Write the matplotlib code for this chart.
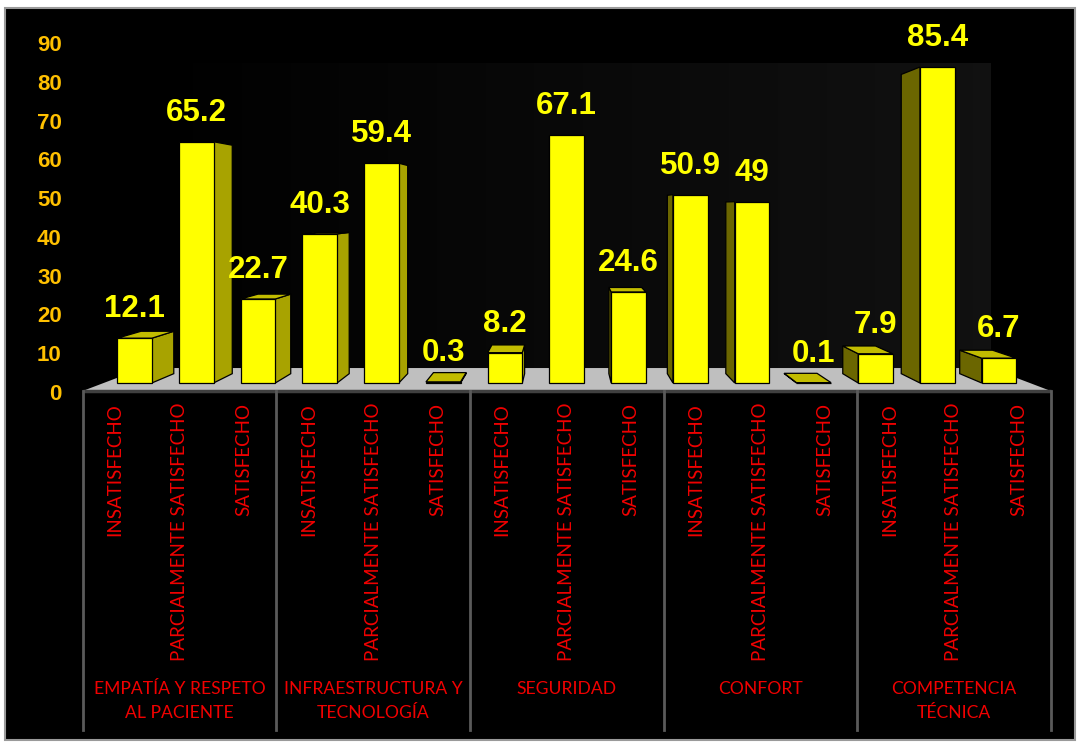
import numpy as np
import matplotlib.pyplot as plt
from matplotlib.patches import Polygon, Rectangle

# survey results: three satisfaction levels for each dimension
groups = ["EMPATÍA Y RESPETO\nAL PACIENTE", "INFRAESTRUCTURA Y\nTECNOLOGÍA",
          "SEGURIDAD", "CONFORT", "COMPETENCIA\nTÉCNICA"]
levels = ["INSATISFECHO", "PARCIALMENTE SATISFECHO", "SATISFECHO"]
values = [12.1, 65.2, 22.7,
          40.3, 59.4, 0.3,
          8.2, 67.1, 24.6,
          50.9, 49, 0.1,
          7.9, 85.4, 6.7]
y_ticks = [0, 10, 20, 30, 40, 50, 60, 70, 80, 90]

# 3d look: points pushed back toward a vanishing point
VX, VY = 7.0, 47.6
BAR_BACK = 0.947
FLOOR_FRONT, FLOOR_BACK = 1.045, 0.915
HALF_W = 0.28

FRONT = "#FFFF00"
RIGHT_SIDE = "#A8A300"
LEFT_SIDE = "#6B6600"
TOP = "#C2BC00"
RED = "#F00000"


def proj(x, y, s):
    return VX + s * (x - VX), VY + s * (y - VY)


W, H = 1078, 742
fig = plt.figure(figsize=(W / 100, H / 100), dpi=100)
fig.patch.set_facecolor("white")
fig.patches.append(Rectangle((5 / W, 2 / H), 1070 / W, 732 / H, transform=fig.transFigure,
                             facecolor="black", edgecolor="#9a9a9a", lw=1.5, zorder=-5))

ax = fig.add_axes([0, 0, 1, 1])
ax.set_xlim(-134.5 / 61.75, (W - 134.5) / 61.75)
ax.set_ylim((383 - H) / 3.70, 383 / 3.70)
ax.axis("off")
ax.patch.set_alpha(0)

n = len(values)

# back wall with a faint gradient
wx0, wy0 = proj(-0.5, 0, FLOOR_BACK)
wx1, wy1 = proj(n - 0.5, 90, FLOOR_BACK)
grad = np.linspace(0.0, 0.068, 256)[None, :] * np.ones((16, 1))
ax.imshow(np.dstack([grad, grad, grad]), extent=[wx0, wx1, wy0, wy1],
          aspect="auto", interpolation="bilinear", zorder=1)

# floor
floor = [proj(-0.5, 0, FLOOR_FRONT), proj(n - 0.5, 0, FLOOR_FRONT),
         proj(n - 0.5, 0, FLOOR_BACK), proj(-0.5, 0, FLOOR_BACK)]
ax.add_patch(Polygon(floor, closed=True, facecolor="#BFBFBF", edgecolor="none", zorder=2))
fl, fr = floor[0], floor[1]
ax.plot([fl[0], fr[0]], [fl[1], fr[1]], color="#404040", lw=2.5, zorder=3,
        solid_capstyle="butt")

# bars
for i, v in enumerate(values):
    x0, x1 = i - HALF_W, i + HALF_W
    kw = dict(closed=True, edgecolor="black", lw=0.9, zorder=4, joinstyle="miter")
    if x1 < VX:
        side = [(x1, 0), (x1, v), proj(x1, v, BAR_BACK), proj(x1, 0, BAR_BACK)]
        ax.add_patch(Polygon(side, facecolor=RIGHT_SIDE, **kw))
    if x0 > VX:
        side = [(x0, 0), (x0, v), proj(x0, v, BAR_BACK), proj(x0, 0, BAR_BACK)]
        ax.add_patch(Polygon(side, facecolor=LEFT_SIDE, **kw))
    if v < VY:
        top = [(x0, v), (x1, v), proj(x1, v, BAR_BACK), proj(x0, v, BAR_BACK)]
        ax.add_patch(Polygon(top, facecolor=TOP, **kw))
    ax.add_patch(Polygon([(x0, 0), (x1, 0), (x1, v), (x0, v)], facecolor=FRONT, **kw))
    ax.annotate(f"{v:g}", (i, v), xytext=(0, 15), textcoords="offset points",
                ha="center", va="baseline", color=FRONT, fontsize=22.5,
                fontweight="bold", family="Liberation Sans", zorder=6)

# category labels along the floor edge
for i in range(n):
    x = proj(i, 0, FLOOR_FRONT)[0]
    ax.text(x, -5.4, levels[i % 3], rotation=90, ha="center", va="top",
            color=RED, fontsize=13.5, family="Lato", zorder=6)

for g, name in enumerate(groups):
    x = proj(3 * g + 1, 0, FLOOR_FRONT)[0]
    ax.text(x, -80.6, name, ha="center", va="top", multialignment="center",
            color=RED, fontsize=12.6, family="Lato", linespacing=1.6, zorder=6)

for g in range(len(groups) + 1):
    x = proj(3 * g - 0.5, 0, FLOOR_FRONT)[0]
    ax.plot([x, x], [fl[1], -93.8], color="#5a5a5a", lw=2, zorder=3)

# value axis
tax = fig.add_axes([68 / W, (H - 392) / H, 0.01, 349 / H])
tax.set_ylim(0, 90)
tax.set_yticks(y_ticks)
tax.set_xticks([])
tax.patch.set_alpha(0)
for s in tax.spines.values():
    s.set_visible(False)
tax.tick_params(axis="y", length=0, pad=4.5, labelcolor="#FFC000", labelsize=16)
for lab in tax.get_yticklabels():
    lab.set_fontweight("bold")
    lab.set_family("Liberation Sans")

fig.savefig("out.png", dpi=100, facecolor=fig.get_facecolor())
